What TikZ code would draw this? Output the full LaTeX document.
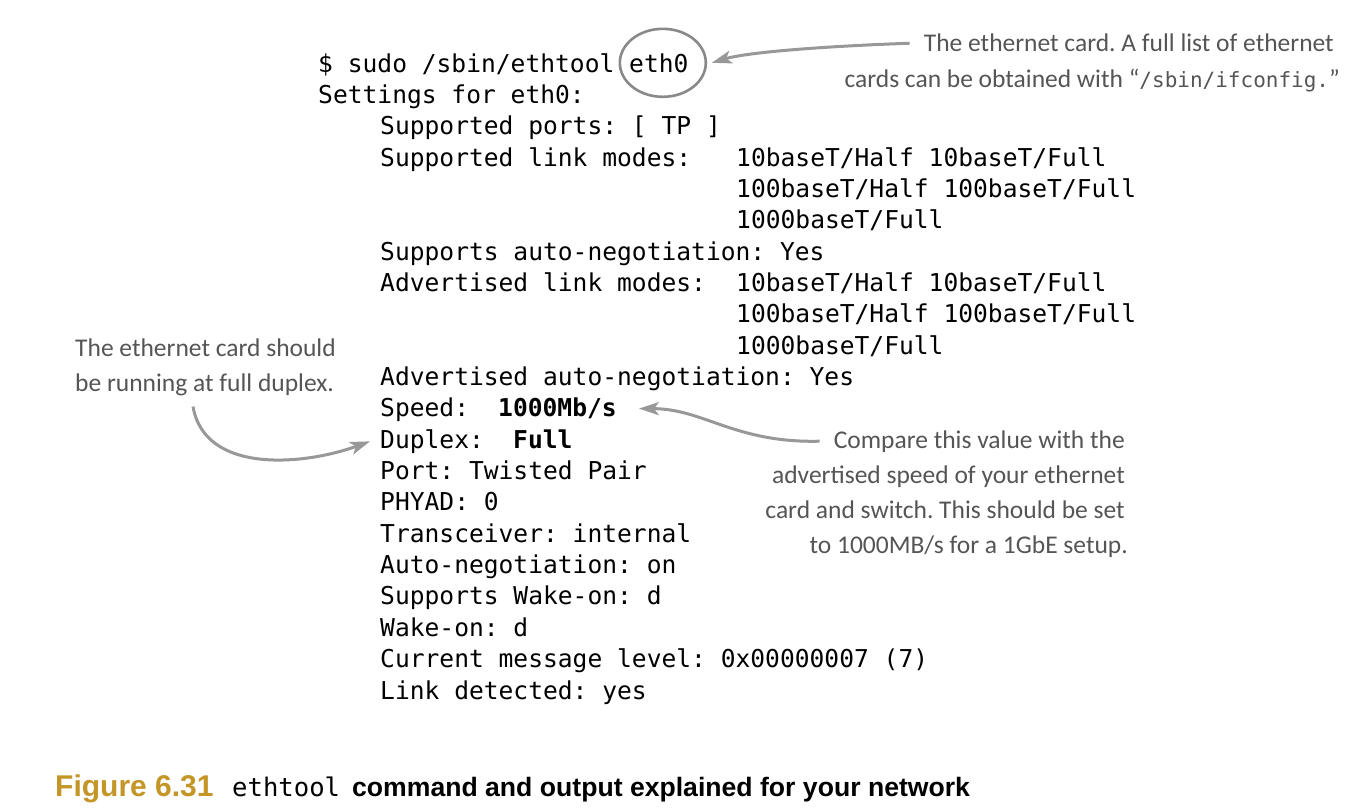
\documentclass[tikz,border=0pt]{standalone}
\usepackage{fontspec}
\usetikzlibrary{arrows.meta}

\newfontfamily\termfont{DejaVu Sans Mono}
\newfontfamily\notefont{Carlito}
\newfontfamily\capfont{Liberation Sans}

\definecolor{notegray}{RGB}{85,85,85}
\definecolor{arrowgray}{RGB}{152,152,152}
\definecolor{figgold}{RGB}{196,150,40}

\tikzset{
  term/.style={font=\termfont\fontsize{24.6}{30}\selectfont, anchor=base west, inner sep=0pt},
  note/.style={font=\notefont\fontsize{25.5}{35}\selectfont, text=notegray, inner sep=0pt},
  pointer/.style={draw=arrowgray, line width=3pt, -{Stealth[length=20pt,width=13pt,inset=5pt]}},
  caption/.style={font=\capfont\bfseries\fontsize{26.6}{30}\selectfont, anchor=base west, inner sep=0pt}
}

\frenchspacing

\begin{document}
\frenchspacing
\begin{tikzpicture}[x=1pt,y=-1pt]

\def\row#1{72+31.35*#1}

\useasboundingbox (0,0) rectangle (1348,808);
\fill[white] (0,0) rectangle (1348,808);

% command line
\node[term] (cmd) at (318,{\row{0}}) {\$ sudo /sbin/ethtool};
\node[term] (eth0) at (629,{\row{0}}) {eth0};
\node[term] (settings) at (318,{\row{1}}) {Settings for eth0:};

% output
\node[term] (ports) at (380,{\row{2}}) {Supported ports: [ TP ]};
\node[term] (suplink) at (380,{\row{3}}) {Supported link modes:};
\node[term] (suplinka) at (736,{\row{3}}) {10baseT/Half 10baseT/Full};
\node[term] (suplinkb) at (736,{\row{4}}) {100baseT/Half 100baseT/Full};
\node[term] (suplinkc) at (736,{\row{5}}) {1000baseT/Full};
\node[term] (supauto) at (380,{\row{6}}) {Supports auto-negotiation: Yes};
\node[term] (advlink) at (380,{\row{7}}) {Advertised link modes:};
\node[term] (advlinka) at (736,{\row{7}}) {10baseT/Half 10baseT/Full};
\node[term] (advlinkb) at (736,{\row{8}}) {100baseT/Half 100baseT/Full};
\node[term] (advlinkc) at (736,{\row{9}}) {1000baseT/Full};
\node[term] (advauto) at (380,{\row{10}}) {Advertised auto-negotiation: Yes};
\node[term] (speed) at (380,{\row{11}}) {Speed:};
\node[term] (speedval) at (498,{\row{11}}) {\bfseries 1000Mb/s};
\node[term] (duplex) at (380,{\row{12}}) {Duplex:};
\node[term] (duplexval) at (513,{\row{12}}) {\bfseries Full};
\foreach \txt [count=\i from 13] in {Port: Twisted Pair, PHYAD: 0, Transceiver: internal,
    Auto-negotiation: on, Supports Wake-on: d, Wake-on: d,
    Current message level: 0x00000007 (7), Link detected: yes}
  \node[term] (out\i) at (380,{\row{\i}}) {\txt};

% notes
\node[note, anchor=base east] (cardnote1) at (1334,52) {The ethernet card. A full list of ethernet};
\node[note, anchor=base east] (cardnote2) at (1340,87) {cards can be obtained with
  “{\termfont\fontsize{21}{30}\selectfont /sbin/ifconfig.}”};

\node[note, anchor=base west] (duplexnote1) at (75,356) {The ethernet card should};
\node[note, anchor=base west] (duplexnote2) at (75,391) {be running at full duplex.};

\node[note, anchor=base east] (speednote1) at (1125,448) {Compare this value with the};
\node[note, anchor=base east] (speednote2) at (1125,483) {advertised speed of your ethernet};
\node[note, anchor=base east] (speednote3) at (1125,518) {card and switch. This should be set};
\node[note, anchor=base east] (speednote4) at (1128,553) {to 1000MB/s for a 1GbE setup.};

% circle and pointers
\draw[draw=arrowgray!90!black, line width=2.6pt] ([xshift=4pt]eth0.center) ellipse [x radius=43, y radius=34];

\coordinate (ethtip) at ([xshift=53pt]eth0.center);
\draw[pointer] ([xshift=-14pt]cardnote1.west) .. controls +(-60,2) and +(40,-12) .. (ethtip);

\coordinate (speedtip) at ([xshift=22pt]speedval.east);
\draw[pointer] ([xshift=-14pt]speednote1.west) .. controls +(-85,2) and +(65,0) .. (speedtip);

\coordinate (duplexstart) at ([shift={(118,11)}]duplexnote2.south west);
\coordinate (duplextip) at ([xshift=-10pt]duplex.west);
\draw[pointer] (duplexstart) .. controls (205,475) and (305,465) .. (duplextip);

% caption
\node[caption, text=figgold, font=\capfont\bfseries\fontsize{30}{30}\selectfont] (figlabel) at (55,796) {Figure 6.31};
\node[term, font=\termfont\fontsize{25.6}{30}\selectfont] (figcmd) at (232,796) {ethtool};
\node[caption] (figtext) at (352,796) {command and output explained for your network};

\end{tikzpicture}
\end{document}
